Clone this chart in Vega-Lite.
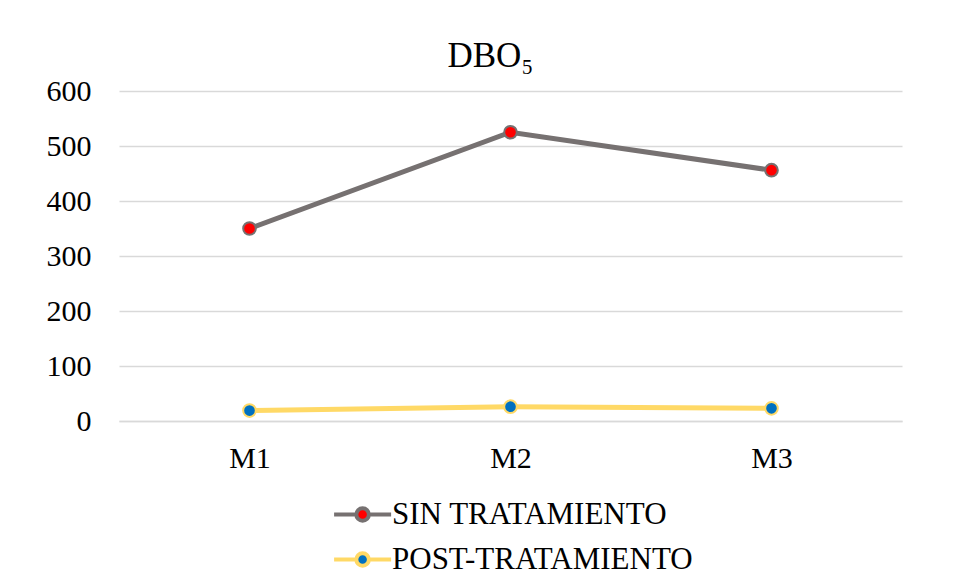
{
  "$schema": "https://vega.github.io/schema/vega-lite/v6.json",
  "width": 783,
  "height": 330,
  "autosize": {"type": "none"},
  "padding": {"left": 119, "top": 91, "right": 54, "bottom": 151},
  "background": "white",
  "title": {
    "text": "DBO₅",
    "font": "Liberation Serif",
    "fontSize": 35,
    "fontWeight": "normal",
    "color": "#000000",
    "anchor": "middle",
    "offset": 2,
    "dx": -20
  },
  "data": {
    "values": [
      {"muestra": "M1", "serie": "SIN TRATAMIENTO", "valor": 350},
      {"muestra": "M2", "serie": "SIN TRATAMIENTO", "valor": 525},
      {"muestra": "M3", "serie": "SIN TRATAMIENTO", "valor": 456},
      {"muestra": "M1", "serie": "POST-TRATAMIENTO", "valor": 19},
      {"muestra": "M2", "serie": "POST-TRATAMIENTO", "valor": 26},
      {"muestra": "M3", "serie": "POST-TRATAMIENTO", "valor": 23}
    ]
  },
  "encoding": {
    "x": {
      "field": "muestra",
      "type": "ordinal",
      "scale": {"type": "point", "padding": 0.5},
      "axis": {
        "title": null,
        "labelAngle": 0,
        "labelFont": "Liberation Serif",
        "labelFontSize": 30,
        "labelColor": "#000000",
        "labelPadding": 22,
        "ticks": false,
        "domain": true,
        "domainColor": "#D9D9D9",
        "domainWidth": 1.5,
        "grid": false
      }
    },
    "y": {
      "field": "valor",
      "type": "quantitative",
      "scale": {"domain": [0, 600], "nice": false},
      "axis": {
        "title": null,
        "values": [0, 100, 200, 300, 400, 500, 600],
        "labelFont": "Liberation Serif",
        "labelFontSize": 30,
        "labelColor": "#000000",
        "labelPadding": 28,
        "ticks": false,
        "domain": false,
        "grid": true,
        "gridColor": "#D9D9D9",
        "gridWidth": 1.5
      }
    }
  },
  "layer": [
    {
      "mark": {"type": "line", "strokeWidth": 5},
      "encoding": {
        "stroke": {
          "field": "serie",
          "type": "nominal",
          "scale": {"domain": ["SIN TRATAMIENTO", "POST-TRATAMIENTO"], "range": ["#767171", "#FFD966"]},
          "legend": {"title": null, "labelFont": "Liberation Serif", "labelFontSize": 31}
        }
      }
    },
    {
      "mark": {"type": "point", "filled": true, "size": 160, "strokeWidth": 2, "opacity": 1, "strokeOpacity": 1, "fillOpacity": 1},
      "encoding": {
        "fill": {
          "field": "serie",
          "type": "nominal",
          "scale": {"domain": ["SIN TRATAMIENTO", "POST-TRATAMIENTO"], "range": ["#FF0000", "#0070C0"]},
          "legend": {"title": null, "labelFont": "Liberation Serif", "labelFontSize": 31}
        },
        "stroke": {
          "field": "serie",
          "type": "nominal",
          "legend": {"title": null, "labelFont": "Liberation Serif", "labelFontSize": 31}
        }
      }
    }
  ],
  "config": {
    "view": {"stroke": null},
    "legend": {
      "orient": "none",
      "legendX": 211,
      "legendY": 408,
      "direction": "vertical",
      "padding": 0,
      "labelFont": "Liberation Serif",
      "labelFontSize": 31,
      "labelColor": "#000000",
      "labelOffset": 31,
      "labelLimit": 0,
      "symbolType": "M-1,0H0.95M2.05,0H4M0.95,0A0.55,0.55,0,1,1,2.05,0A0.55,0.55,0,1,1,0.95,0Z",
      "symbolSize": 520,
      "symbolStrokeWidth": 4,
      "rowPadding": 13,
      "symbolOpacity": 1
    }
  }
}
